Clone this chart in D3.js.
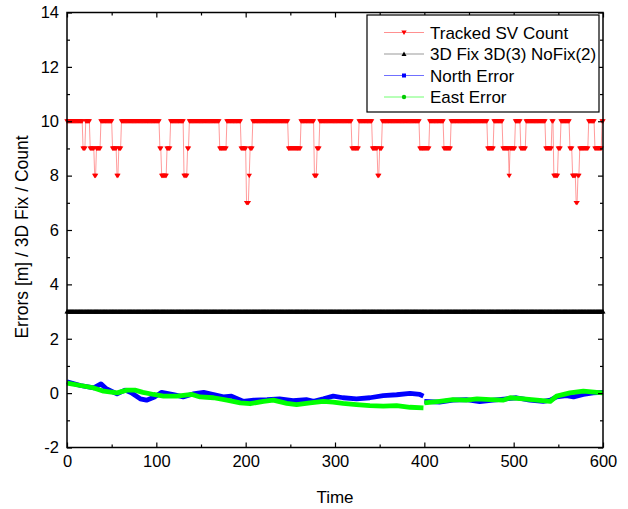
<!DOCTYPE html>
<html>
<head>
<meta charset="utf-8">
<script src="https://cdn.jsdelivr.net/npm/d3@7"></script>
<style>
  body { margin: 0; background: #fff; }
  svg { display: block; font-family: "Liberation Sans", Arial, sans-serif; }
</style>
</head>
<body>
<svg id="chart" width="628" height="509"></svg>
<script>
// Tracked SV count: default level and the runs where it differs [start, end, count]
const svBase = 10;
const svRuns = [
  [18, 20, 9],
  [26, 30, 9], [31, 32, 8], [33, 37, 9],
  [51, 55, 9], [56, 57, 8], [58, 60, 9],
  [104, 105, 9], [106, 111, 8], [112, 115, 9],
  [131, 134, 8], [135, 136, 9],
  [171, 178, 9],
  [195, 200, 9], [201, 203, 7], [204, 204, 8], [205, 207, 9],
  [248, 261, 9],
  [277, 279, 8], [280, 282, 9],
  [319, 326, 9],
  [342, 347, 9], [348, 349, 8], [350, 352, 9],
  [395, 405, 9],
  [422, 429, 9],
  [471, 477, 9],
  [488, 494, 9], [495, 495, 8], [496, 501, 9],
  [508, 513, 9],
  [536, 542, 9],
  [545, 549, 8], [550, 552, 9],
  [563, 565, 9], [566, 569, 8], [570, 571, 7], [572, 573, 8], [574, 583, 9],
  [591, 598, 9]
];
const fixLevel = 3;

// North / East error, null marks the break at t = 400
const northT = [0, 15, 30, 38, 44, 56, 65, 72, 82, 89, 98, 106, 119, 130, 141, 153, 164, 175, 184, 197, 209, 224, 238, 253, 268, 276, 287, 298, 309, 324, 339, 354, 369, 384, 395, 399,
  399.5, 400, 417, 432, 447, 462, 477, 492, 503, 518, 533, 541, 548, 559, 567, 578, 589, 600];
const northV = [0.42, 0.28, 0.19, 0.34, 0.16, -0.03, 0.11, 0.01, -0.21, -0.26, -0.14, 0.03, -0.05, -0.14, -0.03, 0.03, -0.05, -0.14, -0.11, -0.30, -0.26, -0.24, -0.21, -0.28, -0.24, -0.30, -0.21, -0.11, -0.17, -0.21, -0.17, -0.09, -0.06, -0.01, -0.05, -0.11,
  null, -0.30, -0.33, -0.26, -0.24, -0.31, -0.26, -0.21, -0.17, -0.26, -0.30, -0.26, -0.14, -0.09, -0.14, -0.05, 0.01, 0.03];
const eastT = [0, 15, 30, 41, 56, 67, 76, 85, 97, 108, 123, 140, 149, 164, 179, 194, 205, 220, 231, 246, 257, 272, 287, 298, 309, 324, 339, 354, 369, 384, 399,
  399.5, 400, 417, 432, 447, 459, 474, 488, 496, 511, 526, 541, 548, 563, 578, 593, 600];
const eastV = [0.37, 0.28, 0.19, 0.07, 0.01, 0.11, 0.11, 0.03, -0.05, -0.11, -0.11, -0.05, -0.14, -0.17, -0.26, -0.36, -0.39, -0.30, -0.26, -0.38, -0.42, -0.36, -0.30, -0.33, -0.38, -0.42, -0.46, -0.48, -0.46, -0.52, -0.54,
  null, -0.36, -0.30, -0.24, -0.26, -0.21, -0.24, -0.26, -0.17, -0.21, -0.26, -0.30, -0.11, 0.01, 0.07, 0.03, 0.01];

const xTicks = [0, 100, 200, 300, 400, 500, 600];
const yTicks = [-2, 0, 2, 4, 6, 8, 10, 12, 14];
const legendLabels = ['Tracked SV Count', '3D Fix 3D(3) NoFix(2)', 'North Error', 'East Error'];

const svg = d3.select('#chart');
const plotLeft = 67, plotRight = 603, plotTop = 12.5, plotBottom = 447.5;
const x = d3.scaleLinear().domain([0, 600]).range([plotLeft, plotRight]);
const y = d3.scaleLinear().domain([-2, 14]).range([plotBottom, plotTop]);

// one sample per second
const seconds = d3.range(0, 601);
const svCount = seconds.map(t => {
  const run = svRuns.find(r => t >= r[0] && t <= r[1]);
  return { t, v: run ? run[2] : svBase };
});
const fix = seconds.map(t => ({ t, v: fixLevel }));
const north = northT.map((t, i) => ({ t, v: northV[i] }));
const east = eastT.map((t, i) => ({ t, v: eastV[i] }));

const line = d3.line().defined(d => d.v !== null).x(d => x(d.t)).y(d => y(d.v));
const triDown = 'M-2.7,-1.9L2.7,-1.9L0,2.5Z';
const triUp = 'M-2.5,1.9L2.5,1.9L0,-2.5Z';

const plot = svg.append('g');

// SV count
plot.append('path').datum(svCount).attr('d', line)
  .attr('fill', 'none').attr('stroke', '#ff7070').attr('stroke-width', 1).attr('opacity', 0.7);
plot.append('g').selectAll('path').data(svCount).enter().append('path')
  .attr('d', triDown).attr('fill', '#ff0000')
  .attr('transform', d => `translate(${x(d.t)},${y(d.v)})`);

// 3D fix
plot.append('path').datum(fix).attr('d', line)
  .attr('fill', 'none').attr('stroke', '#000').attr('stroke-width', 1);
plot.append('g').selectAll('path').data(fix).enter().append('path')
  .attr('d', triUp).attr('fill', '#000')
  .attr('transform', d => `translate(${x(d.t)},${y(d.v)})`);

// errors
plot.append('path').datum(north).attr('d', line)
  .attr('fill', 'none').attr('stroke', '#0000ff').attr('stroke-width', 4.8)
  .attr('stroke-linejoin', 'round');
plot.append('path').datum(east).attr('d', line)
  .attr('fill', 'none').attr('stroke', '#00ff00').attr('stroke-width', 4.8)
  .attr('stroke-linejoin', 'round');

// axes
const fontSize = '16.5px';
const styleAxis = g => {
  g.select('.domain').remove();
  g.selectAll('.tick line').attr('stroke', '#000').attr('stroke-width', 1.2);
  g.selectAll('.tick text').attr('fill', '#000').style('font-size', fontSize)
    .style('font-family', '"Liberation Sans", Arial, sans-serif');
};
const plain = d => String(d);
const minorX = d3.range(50, 600, 100);
const minorY = d3.range(-1, 14, 2);

svg.append('g').attr('transform', `translate(0,${plotBottom})`)
  .call(d3.axisBottom(x).tickValues(xTicks).tickSize(-5).tickPadding(8).tickFormat(plain)).call(styleAxis);
svg.append('g').attr('transform', `translate(0,${plotBottom})`)
  .call(d3.axisBottom(x).tickValues(minorX).tickSize(-3).tickFormat('')).call(styleAxis);
svg.append('g').attr('transform', `translate(0,${plotTop})`)
  .call(d3.axisTop(x).tickValues(xTicks).tickSize(-5).tickFormat('')).call(styleAxis);
svg.append('g').attr('transform', `translate(0,${plotTop})`)
  .call(d3.axisTop(x).tickValues(minorX).tickSize(-3).tickFormat('')).call(styleAxis);
svg.append('g').attr('transform', `translate(${plotLeft},0)`)
  .call(d3.axisLeft(y).tickValues(yTicks).tickSize(-5).tickPadding(8).tickFormat(plain)).call(styleAxis);
svg.append('g').attr('transform', `translate(${plotLeft},0)`)
  .call(d3.axisLeft(y).tickValues(minorY).tickSize(-3).tickFormat('')).call(styleAxis);
svg.append('g').attr('transform', `translate(${plotRight},0)`)
  .call(d3.axisRight(y).tickValues(yTicks).tickSize(-5).tickFormat('')).call(styleAxis);
svg.append('g').attr('transform', `translate(${plotRight},0)`)
  .call(d3.axisRight(y).tickValues(minorY).tickSize(-3).tickFormat('')).call(styleAxis);

svg.append('rect').attr('x', plotLeft).attr('y', plotTop)
  .attr('width', plotRight - plotLeft).attr('height', plotBottom - plotTop)
  .attr('fill', 'none').attr('stroke', '#000').attr('stroke-width', 1.5);

svg.append('text').attr('x', (plotLeft + plotRight) / 2).attr('y', 503)
  .attr('text-anchor', 'middle').style('font-size', '17px').text('Time');
svg.append('text').attr('transform', 'translate(28,237) rotate(-90)')
  .attr('text-anchor', 'middle').style('font-size', '17.5px').text('Errors [m] / 3D Fix / Count');

// legend
const legend = svg.append('g');
legend.append('rect').attr('x', 367).attr('y', 15).attr('width', 232).attr('height', 97)
  .attr('fill', '#fff').attr('stroke', '#000').attr('stroke-width', 1.2);
const legendLine = ['#ff9090', '#999', '#7070ff', '#70ff70'];
const legendMark = ['#ff0000', '#000', '#0000ff', '#00cc00'];
legendLabels.forEach((label, i) => {
  const cy = 32.5 + i * 21.5;
  legend.append('line').attr('x1', 384).attr('x2', 424).attr('y1', cy).attr('y2', cy)
    .attr('stroke', legendLine[i]).attr('stroke-width', 1);
  const m = legend.append('g').attr('transform', `translate(404,${cy})`);
  if (i === 0) m.append('path').attr('d', triDown).attr('fill', legendMark[i]);
  else if (i === 1) m.append('path').attr('d', triUp).attr('fill', legendMark[i]);
  else if (i === 2) m.append('rect').attr('x', -2).attr('y', -2).attr('width', 4).attr('height', 4).attr('fill', legendMark[i]);
  else m.append('circle').attr('r', 2.2).attr('fill', legendMark[i]);
  legend.append('text').attr('x', 430).attr('y', cy + 6).style('font-size', '17px').text(label);
});
</script>
</body>
</html>
